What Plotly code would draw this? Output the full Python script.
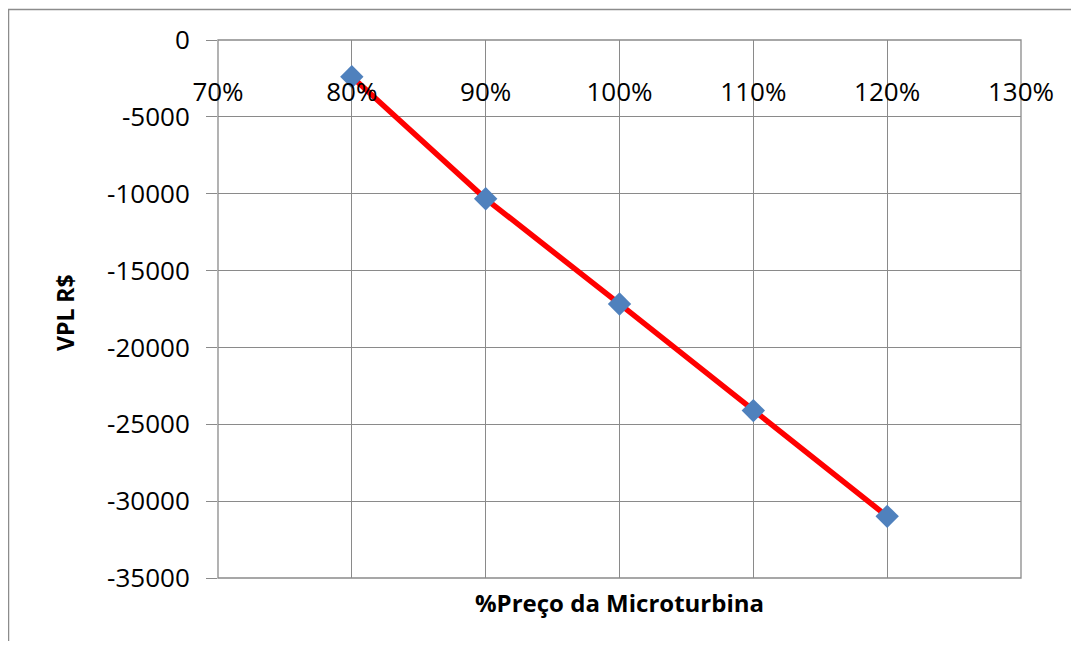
import plotly.graph_objects as go

# Data
preco_pct = [0.8, 0.9, 1.0, 1.1, 1.2]
vpl = [-2390, -10330, -17170, -24110, -30990]
x_ticks = [0.7, 0.8, 0.9, 1.0, 1.1, 1.2, 1.3]
x_labels = ["70%", "80%", "90%", "100%", "110%", "120%", "130%"]
y_ticks = [0, -5000, -10000, -15000, -20000, -25000, -30000, -35000]
y_labels = ["0", "-5000", "-10000", "-15000", "-20000", "-25000", "-30000", "-35000"]

# page has an 8px body margin; figure coordinates are page - 8
W, H = 1063, 633
L, T = 210, 32
pw, ph = 803, 538
R, B = W - L - pw, H - T - ph

GRID = "#8a8a8a"
FONT = "Open Sans, Liberation Sans, sans-serif"

fig = go.Figure()
fig.add_trace(go.Scatter(
    x=preco_pct, y=vpl, mode="lines+markers",
    line=dict(color="#FF0000", width=5.5),
    marker=dict(symbol="diamond", size=18, color="#4F81BD",
                line=dict(width=0)),
    showlegend=False, hoverinfo="x+y",
))

fig.update_layout(
    width=W, height=H,
    margin=dict(l=L, r=R, t=T, b=B, autoexpand=False),
    paper_bgcolor="white", plot_bgcolor="white",
    font=dict(family=FONT, size=26, color="black"),
    xaxis=dict(
        range=[0.7, 1.3], tickvals=x_ticks, ticktext=x_labels,
        anchor="free", position=1, side="bottom", ticklabelstandoff=34,
        ticks="", showgrid=True, gridcolor=GRID, gridwidth=1.3,
        showline=False, zeroline=False, tickfont=dict(family=FONT, size=26),
    ),
    yaxis=dict(
        range=[-35000, 0], tickvals=y_ticks, ticktext=y_labels,
        ticks="outside", ticklen=11, tickcolor=GRID, tickwidth=1.3,
        ticklabelstandoff=11,
        showgrid=True, gridcolor=GRID, gridwidth=1.3,
        showline=False, zeroline=False, tickfont=dict(family=FONT, size=26),
    ),
    annotations=[
        dict(text="<b>%Preço da Microturbina</b>", xref="paper", yref="paper",
             x=0.5, y=(H - (602 - 8) - B) / ph, xanchor="center", yanchor="middle",
             showarrow=False, font=dict(family=FONT, size=24)),
        dict(text="<b>VPL R$</b>", xref="paper", yref="paper",
             x=((65 - 8) - L) / pw, y=(H - (313 - 8) - B) / ph,
             xanchor="center", yanchor="middle",
             textangle=-90, showarrow=False, font=dict(family=FONT, size=23)),
    ],
    shapes=[
        dict(type="rect", xref="paper", yref="paper",
             x0=0, x1=1, y0=0, y1=1,
             line=dict(color=GRID, width=1.3), fillcolor="rgba(0,0,0,0)",
             layer="below"),
        dict(type="rect", xref="paper", yref="paper",
             x0=(0.5 - L) / pw, x1=1.3, y0=-0.3, y1=(H - 1.5 - B) / ph,
             line=dict(color="#8c8c8c", width=1.5), fillcolor="rgba(0,0,0,0)",
             layer="below"),
    ],
)

fig.write_html("out.html")
